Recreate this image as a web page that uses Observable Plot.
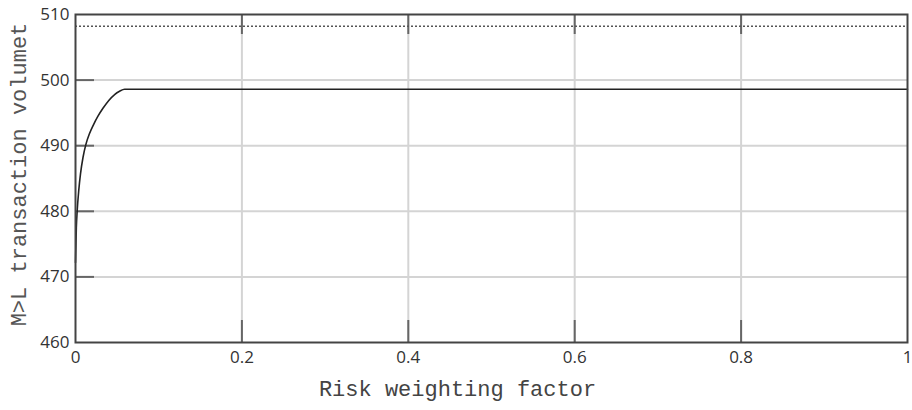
<!DOCTYPE html>
<html>
<head>
<meta charset="utf-8">
<script src="https://cdn.jsdelivr.net/npm/d3@7"></script>
<script src="https://cdn.jsdelivr.net/npm/@observablehq/plot@0.6"></script>
<style>
  body { margin: 0; background: #fff; }
  #chart { width: 912px; height: 410px; }
</style>
</head>
<body>
<div id="chart"></div>
<script>
// Risk weighting factor (x) and M>L transaction volume (y)
const riskFactor = [0, 0.001, 0.002, 0.004, 0.006, 0.009, 0.0125, 0.017, 0.022, 0.027, 0.033, 0.040, 0.047, 0.053, 0.059, 0.2, 0.4, 0.6, 0.8, 1];
const volume     = [472.2, 477.5, 480, 483.3, 485.7, 488.2, 490.2, 491.9, 493.3, 494.5, 495.7, 496.9, 497.8, 498.3, 498.6, 498.6, 498.6, 498.6, 498.6, 498.6];
const referenceLevel = [508.2];

const xTicks = [0, 0.2, 0.4, 0.6, 0.8, 1];
const xTickLabels = ["0", "0.2", "0.4", "0.6", "0.8", "1"];
const yTicks = [460, 470, 480, 490, 500, 510];
const yTickLabels = ["460", "470", "480", "490", "500", "510"];
const xTitle = "Risk weighting factor";
const yTitle = "M>L transaction volumet";

const data = riskFactor.map((x, i) => ({x, y: volume[i]}));
const mono = "'Liberation Mono', 'DejaVu Sans Mono', monospace";
const sans = "'Open Sans', 'Noto Sans', sans-serif";

const chart = Plot.plot({
  width: 912,
  height: 410,
  marginLeft: 75,
  marginRight: 5,
  marginTop: 14,
  marginBottom: 68,
  style: {background: "#fff"},
  x: {domain: [0, 1]},
  y: {domain: [460, 510]},
  marks: [
    Plot.gridX(xTicks.slice(1, -1), {stroke: "#d4d4d4", strokeOpacity: 1, strokeWidth: 2}),
    Plot.gridY(yTicks.slice(1, -1), {stroke: "#d4d4d4", strokeOpacity: 1, strokeWidth: 2}),
    // inward tick marks
    Plot.tickY(yTicks.slice(1, -1), {stroke: "#666", strokeWidth: 2, insetRight: 832 - 19}),
    Plot.tickX(xTicks.slice(1, -1), {stroke: "#666", strokeWidth: 2, insetBottom: 328 - 20}),
    Plot.tickX(xTicks.slice(1, -1), {stroke: "#666", strokeWidth: 2, insetTop: 328 - 22}),
    Plot.ruleY(referenceLevel, {stroke: "#555", strokeWidth: 1.5, strokeDasharray: "2,2"}),
    Plot.line(data, {x: "x", y: "y", stroke: "#222", strokeWidth: 1.6, curve: "monotone-x"}),
    Plot.frame({stroke: "#444", strokeWidth: 2}),
    Plot.axisX(xTicks, {tickSize: 0, tickPadding: 8, tickFormat: (d, i) => xTickLabels[i], fontSize: 17, fontFamily: sans, color: "#333", label: null}),
    Plot.axisY(yTicks, {tickSize: 0, tickPadding: 6, tickFormat: (d, i) => yTickLabels[i], fontSize: 17, fontFamily: sans, color: "#333", label: null}),
    Plot.text([xTitle], {frameAnchor: "bottom", dy: 53, dx: -34, fontSize: 22, fontFamily: mono, fill: "#444"}),
    Plot.text([yTitle], {frameAnchor: "left", textAnchor: "middle", rotate: -90, dx: -57, dy: -4, fontSize: 22, fontFamily: mono, fill: "#555"})
  ]
});
document.getElementById("chart").appendChild(chart);
</script>
</body>
</html>
